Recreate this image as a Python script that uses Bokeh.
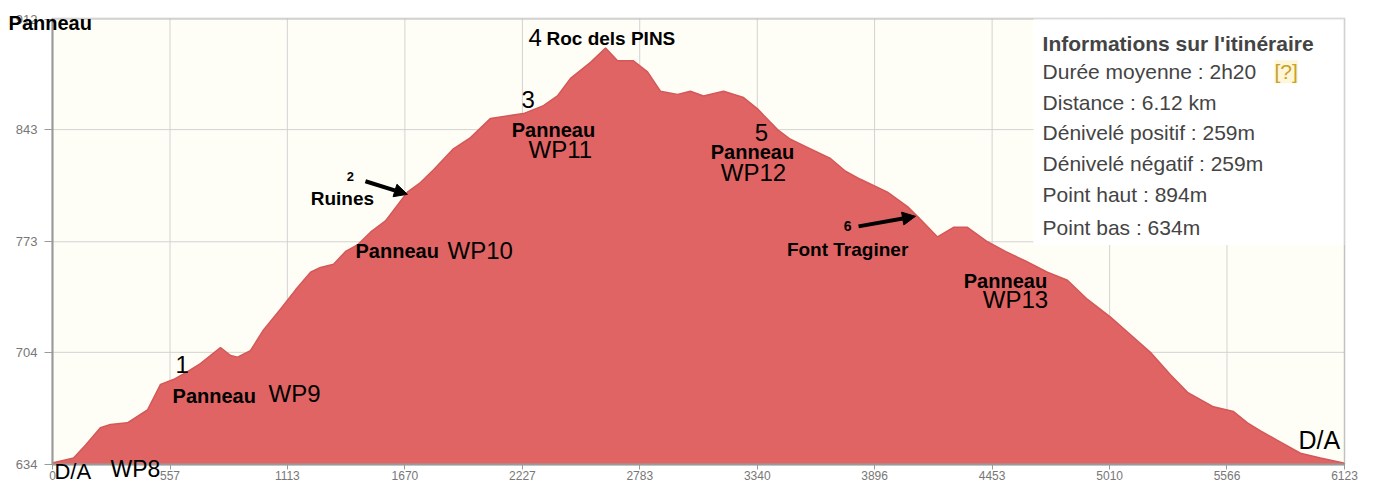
from bokeh.plotting import figure
from bokeh.models import Label, Arrow, NormalHead, BoxAnnotation, FixedTicker, Range1d
from bokeh.embed import file_html
from bokeh.resources import INLINE

# ---- data (distance in m, elevation in m) ----
dist = [0, 100, 156, 227, 275, 355, 450, 512, 573, 640, 701, 796, 844, 877, 938,
        1000, 1081, 1152, 1223, 1270, 1332, 1389, 1445, 1507, 1578, 1682, 1744,
        1806, 1900, 1981, 2076, 2232, 2327, 2393, 2455, 2550, 2621, 2678, 2753,
        2820, 2881, 2962, 3023, 3085, 3180, 3275, 3341, 3436, 3497, 3592, 3687,
        3758, 3829, 3957, 4052, 4113, 4194, 4270, 4336, 4431, 4516, 4611, 4715,
        4810, 4905, 5014, 5109, 5203, 5298, 5379, 5502, 5597, 5663, 5725, 5805,
        5914, 6009, 6118, 6123]
elev = [635, 638, 646, 657, 659, 660, 668, 684, 687, 692, 697, 707, 702, 701, 705,
        718, 731, 743, 754, 757, 759, 767, 771, 779, 786, 804, 810,
        818, 831, 838, 850, 853, 858, 864, 875, 885, 894, 886, 886,
        879, 867, 865, 867, 864, 867, 863, 856, 843, 837, 831, 825,
        817, 812, 804, 795, 787, 776, 782, 782, 773, 767, 761, 754,
        749, 737, 726, 715, 704, 690, 679, 670, 667, 660, 655, 649,
        641, 638, 635, 634]

x_ticks = [0, 557, 1113, 1670, 2227, 2783, 3340, 3896, 4453, 5010, 5566, 6123]
y_ticks = [634, 704, 773, 843, 912]

info_title = "Informations sur l'itinéraire"
info_lines = ["Durée moyenne : 2h20", "Distance : 6.12 km", "Dénivelé positif : 259m",
              "Dénivelé négatif : 259m", "Point haut : 894m", "Point bas : 634m"]

FONT = "Liberation Sans"
XMIN, XMAX = 0, 6123
YMIN, YMAX = 634, 912.4

# The frame fills the canvas so that texts outside the chart area are not clipped;
# axes are pinned at the chart's edges with fixed_location.
p = figure(width=1363, height=484,
           x_range=Range1d(-246.4, 6213), y_range=Range1d(621.5, 923.6),
           output_backend="svg", toolbar_location=None,
           min_border_left=0, min_border_right=0, min_border_top=0, min_border_bottom=0)

p.background_fill_color = "white"
p.border_fill_color = "white"
p.outline_line_color = None
p.grid.visible = False

# chart area background
p.add_layout(BoxAnnotation(left=XMIN, right=XMAX, bottom=YMIN, top=YMAX,
                           fill_color="#fffef6", fill_alpha=1.0, line_color=None,
                           level="underlay"))

# grid lines
p.segment(x0=x_ticks, y0=YMIN, x1=x_ticks, y1=YMAX, line_color="#d2d2d2", line_width=1)
p.segment(x0=XMIN, y0=y_ticks, x1=XMAX, y1=y_ticks, line_color="#d2d2d2", line_width=1)

# profile
p.varea(x=dist, y1=YMIN, y2=elev, fill_color="#e06464")
p.line(dist, elev, line_color="#d45858", line_width=1.5)

p.xaxis.fixed_location = YMIN
p.yaxis.fixed_location = XMIN
p.xaxis.bounds = (XMIN, XMAX)
p.yaxis.bounds = (YMIN, YMAX)
for ax, ticks in ((p.xaxis[0], x_ticks), (p.yaxis[0], y_ticks)):
    ax.ticker = FixedTicker(ticks=ticks)
    ax.axis_line_color = "#9a9a9a"
    ax.axis_line_width = 2
    ax.major_tick_line_color = "#9a9a9a"
    ax.minor_tick_line_color = None
    ax.major_label_text_color = "#777777"
    ax.major_label_text_font = FONT
    ax.major_label_text_font_size = "12px"
p.xaxis.major_tick_out = 5
p.xaxis.major_tick_in = 0
p.xaxis.major_label_standoff = 2
p.yaxis.major_tick_out = 8
p.yaxis.major_tick_in = 0
p.yaxis.major_label_standoff = 7
p.yaxis.major_label_text_font_size = "13px"

# info box
p.add_layout(BoxAnnotation(left=4649, right=XMAX, bottom=771, top=YMAX,
                           fill_color="white", fill_alpha=1.0, line_color=None))
# chart border (top / right)
p.add_layout(BoxAnnotation(left=XMIN, right=XMAX, bottom=YMIN, top=YMAX,
                           fill_color=None, line_color="#9a9a9a", line_width=2))


def lab(text, x, y, size, bold=False, align="left", color="black"):
    p.add_layout(Label(x=x, y=y, text=text, text_font=FONT, text_font_size=f"{size}px",
                       text_font_style="bold" if bold else "normal",
                       text_align=align, text_baseline="middle", text_color=color))


lab(info_title, 4692, 896.7, 21, bold=True, color="#444444")
info_y = [879.1, 859.7, 840.9, 822.1, 802.6, 782.0]
for t, yy in zip(info_lines, info_y):
    lab(t, 4692, yy, 21, color="#444444")
p.add_layout(Label(x=5791, y=879.1, text="[?]", text_font=FONT, text_font_size="21px",
                   text_align="left", text_baseline="middle", text_color="#c9a227",
                   background_fill_color="#fdf6d8"))

# annotations on the profile
lab("Panneau", -208, 909.3, 20, bold=True)
lab("D/A", 9, 629.8, 22)
lab("WP8", 275, 631.0, 23)
lab("1", 583, 696.1, 24)
lab("Panneau", 569, 676.6, 20, bold=True)
lab("WP9", 1024, 678.5, 24)
lab("2", 1412, 814, 13, bold=True, align="center")
lab("Ruines", 1374, 800.1, 19, bold=True, align="center")
lab("Panneau", 1436, 767.5, 20, bold=True)
lab("WP10", 1872, 767.5, 24)
lab("3", 2223, 861.6, 24)
lab("Panneau", 2374, 842.8, 20, bold=True, align="center")
lab("WP11", 2407, 830.9, 24, align="center")
lab("4", 2256, 900.5, 24)
lab("Roc dels PINS", 2341, 899.8, 19, bold=True)
lab("5", 3360, 841.5, 24, align="center")
lab("Panneau", 3317, 829.0, 20, bold=True, align="center")
lab("WP12", 3322, 816.4, 24, align="center")
lab("6", 3768, 782.6, 14, bold=True, align="center")
lab("Font Traginer", 3768, 768.2, 19, bold=True, align="center")
lab("Panneau", 4516, 748.7, 20, bold=True, align="center")
lab("WP13", 4564, 736.8, 24, align="center")
lab("D/A", 5905, 649, 25)

for xs, ys, xe, ye in ((1483, 810.8, 1682, 802.6), (3820, 782.6, 4090, 788.9)):
    p.add_layout(Arrow(end=NormalHead(size=13, fill_color="black", line_color="black"),
                       x_start=xs, y_start=ys, x_end=xe, y_end=ye,
                       line_color="black", line_width=4))

open("out.html", "w").write(file_html(p, INLINE))
